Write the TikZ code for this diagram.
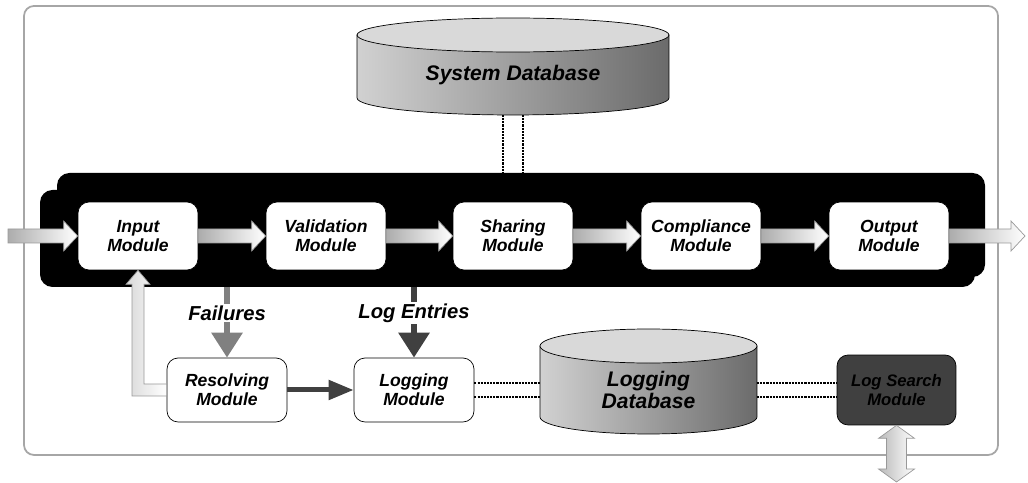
\documentclass[tikz,border=0pt]{standalone}
\usepackage{fontspec}
\setmainfont{Liberation Sans}
\usetikzlibrary{calc,arrows.meta,backgrounds}

\tikzset{
  module/.style={draw=black, fill=white, rounded corners=0.22cm, minimum width=2.4cm, minimum height=1.36cm,
    align=center, font=\bfseries\itshape\fontsize{10}{11}\selectfont},
  dbtext/.style={outer sep=0pt, align=center, font=\bfseries\itshape\fontsize{12}{13}\selectfont},
  flowarrow/.style={draw=gray!80, left color=gray!65, right color=white},
  backarrow/.style={draw=gray!80, left color=gray!30, right color=white},
  dbbody/.style={draw=black, left color=black!18, right color=black!58},
  dbtop/.style={draw=black, fill=black!15},
  dotlink/.style={draw=black, line width=0.6pt, dash pattern=on 1.2pt off 0.6pt},
  tag/.style={fill=white, text=black, inner sep=1pt, font=\bfseries\itshape\fontsize{11.5}{13}\selectfont},
}

% fat shaded arrow from #1 to the tip #2
\newcommand{\flow}[2]{%
  \path[flowarrow] ($#1+(0,-7)$) -- ($#2+(-14,-7)$) -- ++(0,-8) -- #2
    -- ++(-14,15) -- ++(0,-8) -- ($#1+(0,7)$) -- cycle;}

% drum round node #1, radii #2 and #3
\newcommand{\drum}[3]{%
  \draw[dbbody] (#1.north west) -- ($(#1.south west)+(0,#3)$)
    arc[start angle=180, end angle=360, x radius=#2, y radius=#3] -- (#1.north east) -- cycle;
  \draw[dbtop] (#1.north) ellipse[x radius=#2, y radius=#3];}

\begin{document}
\begin{tikzpicture}[x=0.02cm, y=0.02cm]
  \useasboundingbox (0,0) rectangle (1028,483);

  \draw[gray!70, line width=1pt, rounded corners=0.2cm] (24,28) rectangle (998,477);
  \fill[rounded corners=0.25cm] (40,196) rectangle (975,293);
  \fill[rounded corners=0.25cm] (57,206) rectangle (985,310);

  \coordinate (in) at (8,247);
  \coordinate (out) at (1025,247);
  \coordinate (bandtop) at (0,310);
  \coordinate (bandbot) at (0,196);
  \coordinate (user) at (896.5,1);

  \node[dbtext, minimum width=6.24cm, minimum height=1.6cm] (sysdb) at (513,408) {System Database};
  \node[dbtext, minimum width=4.34cm, minimum height=1.76cm] (logdb) at (648.5,93) {Logging\\Database};
  \begin{scope}[on background layer]
    \drum{sysdb}{3.12cm}{0.34cm}
    \drum{logdb}{2.17cm}{0.34cm}
  \end{scope}

  \node[module] (input) at (138,247) {Input\\Module};
  \node[module] (validation) at (326,247) {Validation\\Module};
  \node[module] (sharing) at (513,247) {Sharing\\Module};
  \node[module] (compliance) at (701,247) {Compliance\\Module};
  \node[module] (output) at (889,247) {Output\\Module};
  \node[module, minimum height=1.28cm] (resolving) at (227,93) {Resolving\\Module};
  \node[module, minimum height=1.28cm] (logging) at (414,93) {Logging\\Module};
  \node[module, fill=black!75, minimum width=2.38cm, minimum height=1.4cm,
    font=\bfseries\itshape\fontsize{9.5}{10.5}\selectfont] (logsearch) at (896.5,93) {Log Search\\Module};

  \flow{(in)}{(input.west)}
  \foreach \a/\b in {input/validation, validation/sharing, sharing/compliance, compliance/output}
    {\flow{(\a.east)}{(\b.west)}}
  \flow{(output.east)}{(out)}

  \foreach \o in {-10,10}
    \draw[dotlink] ($(sysdb.south)+(\o,0)$) -- ($(sysdb.south |- bandtop)+(\o,0)$);
  \foreach \o in {-7,7} {
    \draw[dotlink] ($(logging.east)+(0,\o)$) -- ($(logdb.west)+(0,\o)$);
    \draw[dotlink] ($(logdb.east)+(0,\o)$) -- ($(logsearch.west)+(0,\o)$);
  }

  \draw[-{Triangle[width=0.6cm,length=0.5cm]}, gray, line width=0.12cm]
    (resolving.north |- bandbot) -- (resolving.north) node[tag, pos=0.37] {Failures};
  \draw[-{Triangle[width=0.6cm,length=0.5cm]}, black!75, line width=0.12cm]
    (logging.north |- bandbot) -- (logging.north) node[tag, pos=0.37] {Log Entries};
  \draw[-{Triangle[width=0.38cm,length=0.5cm]}, black!75, line width=0.1cm] (resolving) -- (logging);

  \path[backarrow] ($(resolving.west)+(0,-6)$) -| ($(input.south)+(-6,-14)$) -- ++(-6,0) -- (input.south)
    -- ++(12,-14) -- ++(-6,0) |- ($(resolving.west)+(0,6)$) -- cycle;

  \path[flowarrow, left color=gray!55] (logsearch.south) -- ++(18,-13) -- ++(-8,0) -- ($(user)+(10,13)$)
    -- ++(8,0) -- (user) -- ++(-18,13) -- ++(8,0) -- ($(logsearch.south)+(-10,-13)$) -- ++(-8,0) -- cycle;
\end{tikzpicture}
\end{document}
